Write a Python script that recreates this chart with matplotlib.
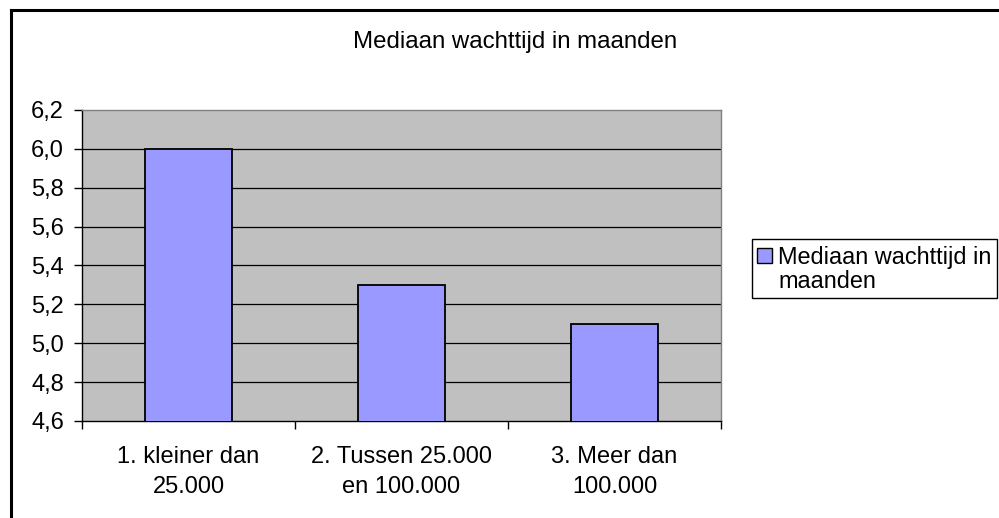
import matplotlib
matplotlib.use("Agg")
import matplotlib.pyplot as plt
import matplotlib.transforms as mtransforms
from matplotlib.lines import Line2D
from matplotlib.patches import Rectangle

plt.rcParams["font.family"] = ["Liberation Sans", "DejaVu Sans"]

categories = ["1. kleiner dan\n25.000", "2. Tussen 25.000\nen 100.000", "3. Meer dan\n100.000"]
values = [6.0, 5.3, 5.1]
y_ticks = [4.6, 4.8, 5.0, 5.2, 5.4, 5.6, 5.8, 6.0, 6.2]
y_labels = [f"{t:.1f}".replace(".", ",") for t in y_ticks]
title = "Mediaan wachttijd in maanden"
series_name = "Mediaan wachttijd in\nmaanden"

BAR_COLOR = "#9999FF"
W, H = 999, 518
fig = plt.figure(figsize=(W / 100, H / 100), dpi=100)
fig.patch.set_facecolor("white")


def fy(py):
    # reference pixel row -> figure fraction
    return 1 - py / H


# plot area in pixel coordinates of the reference
left, right, top, bottom = 82, 721, 110, 421
ax = fig.add_axes([left / W, fy(bottom), (right - left) / W, (bottom - top) / H])
ax.set_facecolor("#C0C0C0")

x = list(range(len(categories)))
ax.bar(x, values, width=0.405, color=BAR_COLOR, edgecolor="black", linewidth=1.3, zorder=3)

ax.set_xlim(-0.5, len(categories) - 0.5)
ax.set_ylim(y_ticks[0], y_ticks[-1])
ax.set_yticks(y_ticks)
ax.set_yticklabels(y_labels)
for t in y_ticks[1:-1]:
    ax.axhline(t, color="black", linewidth=0.9, zorder=1)

# category ticks sit on the boundaries between groups
ax.set_xticks([i - 0.5 for i in range(len(categories) + 1)])
ax.set_xticklabels([])
ax.tick_params(axis="x", length=6, width=1, color="black", direction="out")
ax.tick_params(axis="y", length=6, width=1, color="black", direction="out",
               labelsize=17, pad=7)

# two-line category labels, one text per line so the baselines land right
trans = mtransforms.blended_transform_factory(ax.transData, fig.transFigure)
for i, c in enumerate(categories):
    for line, base in zip(c.split("\n"), [463, 493]):
        fig.text(i, fy(base), line, ha="center", va="baseline", fontsize=17,
                 transform=trans)

for side in ["top", "right"]:
    ax.spines[side].set_color("#808080")
    ax.spines[side].set_linewidth(1)
for side in ["left", "bottom"]:
    ax.spines[side].set_color("black")
    ax.spines[side].set_linewidth(1)

fig.text(515 / W, fy(42), title, ha="center", va="center", fontsize=17.3)

# legend box, drawn by hand so the swatch lines up with the first text line
fig.add_artist(Rectangle((752 / W, fy(298)), (997 - 752) / W, (298 - 239) / H,
                         transform=fig.transFigure, facecolor="white",
                         edgecolor="black", linewidth=1))
fig.add_artist(Rectangle((757 / W, fy(263)), 15 / W, 15 / H,
                         transform=fig.transFigure, facecolor=BAR_COLOR,
                         edgecolor="black", linewidth=1))
for line, base in zip(series_name.split("\n"), [264, 288]):
    fig.text(778 / W, fy(base), line, ha="left", va="baseline", fontsize=16.9)

# outer chart border (only left and top edges visible in the crop)
fig.add_artist(Line2D([11 / W, 11 / W], [0, fy(10)], color="black", linewidth=2.2))
fig.add_artist(Line2D([11 / W, 1], [fy(10), fy(10)], color="black", linewidth=2.2))

fig.savefig("out.png", dpi=100)
